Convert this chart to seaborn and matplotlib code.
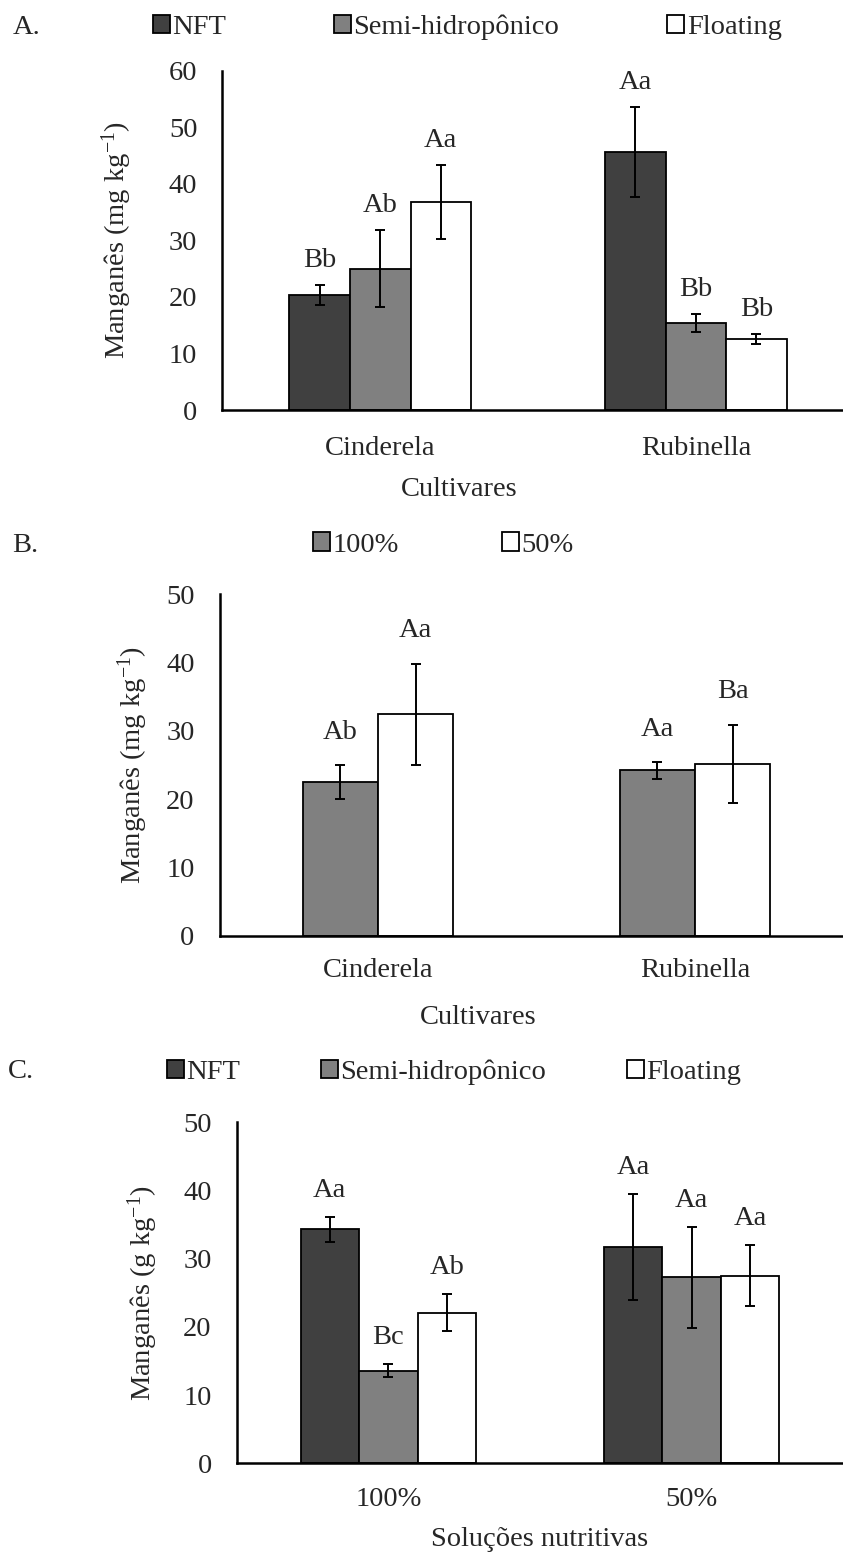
import matplotlib
matplotlib.use("Agg")
import matplotlib.pyplot as plt
import seaborn as sns
import pandas as pd

# ---------------- data ----------------
# Panel A
a_categories = ["Cinderela", "Rubinella"]
a_groups = ["NFT", "Semi-hidropônico", "Floating"]
a_nft = [20.3, 45.6]
a_semi = [25.0, 15.4]
a_float = [36.8, 12.6]
a_nft_err = [1.75, 7.9]
a_semi_err = [6.75, 1.6]
a_float_err = [6.5, 0.85]
a_nft_let = ["Bb", "Aa"]
a_semi_let = ["Ab", "Bb"]
a_float_let = ["Aa", "Bb"]

# Panel B
b_categories = ["Cinderela", "Rubinella"]
b_groups = ["100%", "50%"]
b_100 = [22.5, 24.2]
b_50 = [32.4, 25.2]
b_100_err = [2.45, 1.25]
b_50_err = [7.45, 5.7]
b_100_let = ["Ab", "Aa"]
b_50_let = ["Aa", "Ba"]

# Panel C
c_categories = ["100%", "50%"]
c_groups = ["NFT", "Semi-hidropônico", "Floating"]
c_nft = [34.3, 31.7]
c_semi = [13.6, 27.3]
c_float = [22.1, 27.5]
c_nft_err = [1.85, 7.8]
c_semi_err = [0.95, 7.4]
c_float_err = [2.75, 4.5]
c_nft_let = ["Aa", "Aa"]
c_semi_let = ["Bc", "Aa"]
c_float_let = ["Ab", "Aa"]

# ---------------- style ----------------
sns.set_style("white")
plt.rcParams["font.family"] = ["Liberation Serif", "DejaVu Serif"]
plt.rcParams["mathtext.fontset"] = "custom"
plt.rcParams["mathtext.rm"] = "Liberation Serif"
plt.rcParams["mathtext.default"] = "regular"

FS = 20.5
W, H = 843, 1553
DARK, MID, WHITE = "#404040", "#808080", "#ffffff"

fig = plt.figure(figsize=(W / 100, H / 100), dpi=100)


def rect(l, r, t, b):
    return [l / W, 1 - b / H, (r - l) / W, (b - t) / H]


def panel(r, cats, groups, series, errs, letters, colors, width, ymax,
          xpad, let_off, legend_x, legend_y, colspace, tag, tag_x, tag_y,
          ylabel, ylab_x, xlabel, xlab_x, xlab_y):
    ax = fig.add_axes(r)
    rows = []
    for g, vals in zip(groups, series):
        for c, v in zip(cats, vals):
            rows.append({"cat": c, "grp": g, "val": v})
    df = pd.DataFrame(rows)
    sns.barplot(data=df, x="cat", y="val", hue="grp", order=cats,
                hue_order=groups, palette=dict(zip(groups, colors)),
                edgecolor="black", linewidth=1.3, width=width,
                errorbar=None, legend=False, ax=ax, zorder=2)
    for cont, e, lets in zip(ax.containers, errs, letters):
        for bar, ev, lt in zip(cont.patches, e, lets):
            xc = bar.get_x() + bar.get_width() / 2
            h = bar.get_height()
            ax.errorbar(xc, h, yerr=ev, fmt="none", ecolor="black",
                        elinewidth=1.4, capsize=3.7, capthick=1.4, zorder=3)
            ax.annotate(lt, xy=(xc, h + ev), xytext=(0, let_off),
                        textcoords="offset points", ha="center",
                        va="baseline", fontsize=FS)
    ax.set_xlim(-0.5, len(cats) - 0.5)
    ax.set_ylim(0, ymax)
    ax.set_yticks(range(0, ymax + 1, 10))
    ax.set_xlabel("")
    ax.set_ylabel("")
    ax.tick_params(axis="both", length=0, labelsize=FS)
    ax.tick_params(axis="y", pad=18)
    ax.tick_params(axis="x", pad=xpad)
    for s in ["top", "right"]:
        ax.spines[s].set_visible(False)
    for s in ["left", "bottom"]:
        ax.spines[s].set_color("black")
        ax.spines[s].set_linewidth(1.8)
    ax.grid(False)
    ax.set_facecolor("white")

    leg = fig.legend(handles=list(ax.containers), labels=groups,
                     loc="center left",
                     bbox_to_anchor=(legend_x / W, 1 - legend_y / H),
                     bbox_transform=fig.transFigure, ncol=len(groups),
                     frameon=False, fontsize=FS, borderpad=0,
                     borderaxespad=0, handlelength=0.6, handleheight=0.6,
                     handletextpad=0.08, columnspacing=colspace)
    for hp in leg.legend_handles:
        hp.set_edgecolor("black")
        hp.set_linewidth(1.3)

    fig.text(tag_x / W, 1 - tag_y / H, tag, fontsize=FS, ha="left",
             va="center")
    mid_y = (r[1] + r[3] / 2)
    fig.text(ylab_x / W, mid_y, ylabel, fontsize=FS, rotation=90,
             ha="center", va="center")
    fig.text(xlab_x / W, 1 - xlab_y / H, xlabel, fontsize=FS, ha="center",
             va="center")
    return ax


panel(rect(222.4, 853.8, 70.7, 410), a_categories, a_groups,
      [a_nft, a_semi, a_float], [a_nft_err, a_semi_err, a_float_err],
      [a_nft_let, a_semi_let, a_float_let], [DARK, MID, WHITE],
      0.575, 60, 19, 13, 153, 27, 3.79, "A.", 13, 27,
      "Manganês (mg kg$^{-1}$)", 117, "Cultivares", 459.5, 489)

panel(rect(219.6, 853.6, 594.3, 935.7), b_categories, b_groups,
      [b_100, b_50], [b_100_err, b_50_err],
      [b_100_let, b_50_let], [MID, WHITE],
      0.475, 50, 16, 19, 313, 545, 3.61, "B.", 12, 545,
      "Manganês (mg kg$^{-1}$)", 133, "Cultivares", 478.5, 1017)

panel(rect(236.7, 843.3, 1122.3, 1463.3), c_categories, c_groups,
      [c_nft, c_semi, c_float], [c_nft_err, c_semi_err, c_float_err],
      [c_nft_let, c_semi_let, c_float_let], [DARK, MID, WHITE],
      0.579, 50, 17, 14.4, 167, 1072, 2.84, "C.", 8, 1072,
      "Manganês (g kg$^{-1}$)", 143, "Soluções nutritivas", 539.5, 1540)

fig.savefig("out.png", dpi=100, facecolor="white")
